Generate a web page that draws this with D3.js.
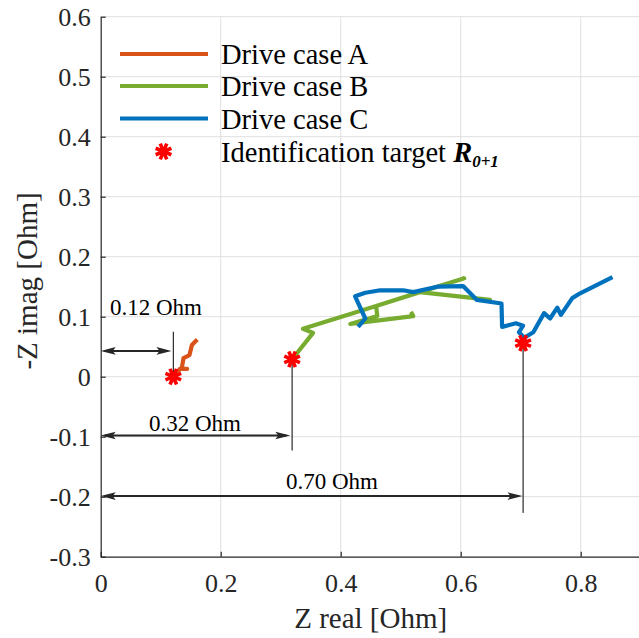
<!DOCTYPE html>
<html><head><meta charset="utf-8">
<script src="https://cdn.jsdelivr.net/npm/d3@7"></script>
<style>body{margin:0;background:#fff}svg{display:block}text{font-family:'Liberation Serif','Times New Roman',serif}</style>
</head><body><svg id="c" width="639" height="638"></svg>
<script>
// ---- data ----
const caseA_re = [0.122, 0.132, 0.144, 0.135, 0.138, 0.148, 0.152, 0.161];
const caseA_im = [0.000, 0.013, 0.013, 0.013, 0.031, 0.036, 0.053, 0.062];
const caseB_re = [0.319, 0.354, 0.337, 0.459, 0.606, 0.532, 0.649, 0.532, 0.459, 0.461, 0.416, 0.521, 0.517];
const caseB_im = [0.029, 0.073, 0.080, 0.118, 0.164, 0.141, 0.128, 0.141, 0.118, 0.101, 0.088, 0.101, 0.108];
const caseC_re = [0.429, 0.441, 0.424, 0.441, 0.466, 0.504, 0.521, 0.561, 0.604, 0.627, 0.668, 0.669, 0.692, 0.704, 0.697, 0.706, 0.721, 0.739, 0.749, 0.761, 0.767, 0.786, 0.799, 0.853];
const caseC_im = [0.083, 0.097, 0.134, 0.140, 0.144, 0.144, 0.141, 0.150, 0.151, 0.128, 0.122, 0.083, 0.089, 0.085, 0.074, 0.065, 0.074, 0.106, 0.097, 0.115, 0.103, 0.131, 0.139, 0.166];
const target_re = [0.121, 0.319, 0.704];
const target_im = [0.000, 0.029, 0.056];
const seriesNames = ["Drive case A", "Drive case B", "Drive case C"];
const targetName = "Identification target ";
const xTicks = [0, 0.2, 0.4, 0.6, 0.8];
const yTicks = [-0.3, -0.2, -0.1, 0, 0.1, 0.2, 0.3, 0.4, 0.5, 0.6];
const xLabel = "Z real [Ohm]";
const yLabel = "-Z imag [Ohm]";
// annotations: label, arrow tip (re), arrow level (im), vertical line top/bottom (im), text anchor point
const annotLabels = ["0.12 Ohm", "0.32 Ohm", "0.70 Ohm"];
const annotTip = [0.118, 0.316, 0.703];
const annotLevel = [0.043, -0.098, -0.199];
const annotLineTop = [0.075, 0.029, 0.056];
const annotLineBottom = [0.000, -0.123, -0.227];
const annotTextRe = [0.0155, 0.157, 0.3855];
const annotTextIm = [0.1028, -0.090, -0.1877];
const annotAnchor = ["start", "middle", "middle"];

// ---- layout ----
const svg = d3.select("#c");
const FONT = "'Liberation Serif','Times New Roman',serif";
const x = d3.scaleLinear().domain([0, 0.9]).range([100.7, 640.7]);
const y = d3.scaleLinear().domain([-0.3, 0.6]).range([556.7, 16.7]);
const colors = ["#D95319", "#77AC30", "#0072BD"];
const axisCol = "#262626";

// grid
const g = svg.append("g");
g.selectAll(".gx").data(xTicks.filter(d => d > 0)).enter().append("line")
  .attr("x1", d => x(d)).attr("x2", d => x(d)).attr("y1", y(-0.3)).attr("y2", y(0.6))
  .attr("stroke", "#dfdfdf").attr("stroke-width", 1);
g.selectAll(".gy").data(yTicks.filter(d => d > -0.3)).enter().append("line")
  .attr("y1", d => y(d)).attr("y2", d => y(d)).attr("x1", x(0)).attr("x2", x(0.9))
  .attr("stroke", "#dfdfdf").attr("stroke-width", 1);

const fmt = d => (Math.abs(d) < 1e-9 ? "0" : d3.format(".1f")(d).replace("−", "-"));

const ax = svg.append("g").attr("transform", `translate(0,${y(-0.3)})`)
  .call(d3.axisBottom(x).tickValues(xTicks).tickFormat(fmt).tickSizeInner(-5).tickSizeOuter(0).tickPadding(17));
const ay = svg.append("g").attr("transform", `translate(${x(0)},0)`)
  .call(d3.axisLeft(y).tickValues(yTicks).tickFormat(fmt).tickSizeInner(-5).tickSizeOuter(0).tickPadding(10));
[ax, ay].forEach(a => {
  a.attr("font-family", FONT).attr("font-size", 26);
  a.select(".domain").attr("stroke", axisCol).attr("stroke-width", 1.2);
  a.selectAll(".tick line").attr("stroke", axisCol).attr("stroke-width", 1.2);
  a.selectAll(".tick text").attr("fill", axisCol).attr("font-family", FONT).style("font-family", FONT).style("font-size", "26px");
});

svg.append("text").attr("x", x(0.45)).attr("y", 628).attr("text-anchor", "middle")
  .attr("font-family", FONT).style("font-family", FONT).style("font-size", "29px").attr("fill", axisCol).text(xLabel);
svg.append("text").attr("transform", `translate(37,281) rotate(-90)`).attr("text-anchor", "middle")
  .attr("font-family", FONT).style("font-family", FONT).style("font-size", "29px").attr("fill", axisCol).text(yLabel);

// data lines
const line = d3.line().x(d => x(d[0])).y(d => y(d[1]));
const series = [
  d3.zip(caseA_re, caseA_im),
  d3.zip(caseB_re, caseB_im),
  d3.zip(caseC_re, caseC_im)
];
series.forEach((s, i) => {
  svg.append("path").datum(s).attr("d", line).attr("fill", "none")
    .attr("stroke", colors[i]).attr("stroke-width", 4.2)
    .attr("stroke-linejoin", "round").attr("stroke-linecap", "butt");
});

// asterisk marker
function star(sel, cx, cy, r) {
  const gg = sel.append("g").attr("transform", `translate(${cx},${cy})`);
  for (let k = 0; k < 4; k++) {
    const a = k * Math.PI / 4 + Math.PI / 8;
    gg.append("line").attr("x1", -r * Math.cos(a)).attr("y1", -r * Math.sin(a))
      .attr("x2", r * Math.cos(a)).attr("y2", r * Math.sin(a))
      .attr("stroke", "#FF0000").attr("stroke-width", 3.6);
  }
  gg.append("circle").attr("r", r * 0.55).attr("fill", "#FF0000");
}

// annotations (behind stars)
const ann = svg.append("g");
const arrowHead = (tipX, tipY, dir) => {
  const L = 15, W = 3.8;
  return `M${tipX},${tipY} L${tipX - dir * L},${tipY - W} L${tipX - dir * L * 0.8},${tipY} L${tipX - dir * L},${tipY + W} Z`;
};
annotLabels.forEach((lab, i) => {
  const yl = y(annotLevel[i]);
  const x0 = x(0), x1 = x(annotTip[i]);
  ann.append("line").attr("x1", x0 + 4).attr("x2", x1 - 4).attr("y1", yl).attr("y2", yl)
    .attr("stroke", axisCol).attr("stroke-width", 2);
  ann.append("path").attr("d", arrowHead(x1, yl, 1)).attr("fill", axisCol);
  ann.append("path").attr("d", arrowHead(x0, yl, -1)).attr("fill", axisCol);
  ann.append("line").attr("x1", x(target_re[i])).attr("x2", x(target_re[i]))
    .attr("y1", y(annotLineTop[i])).attr("y2", y(annotLineBottom[i]))
    .attr("stroke", "#000").attr("stroke-width", 1);
  ann.append("text").attr("x", x(annotTextRe[i])).attr("y", y(annotTextIm[i]))
    .attr("text-anchor", annotAnchor[i]).style("font-family", FONT).style("font-size", "23px")
    .attr("fill", "#000").text(lab);
});

target_re.forEach((re, i) => star(svg, x(re), y(target_im[i]), 8.5));

// legend
const leg = svg.append("g");
const rowY = [54, 86, 118.5];
seriesNames.forEach((n, i) => {
  leg.append("line").attr("x1", 120).attr("x2", 208).attr("y1", rowY[i]).attr("y2", rowY[i])
    .attr("stroke", colors[i]).attr("stroke-width", 4);
  leg.append("text").attr("x", 221).attr("y", rowY[i] + 10).style("font-family", FONT)
    .style("font-size", "28.5px").attr("fill", "#000").text(n);
});
star(leg, 163.5, 151.5, 8.5);
const t = leg.append("text").attr("x", 221).attr("y", 161.5).style("font-family", FONT)
  .style("font-size", "28.5px").attr("fill", "#000");
t.append("tspan").text(targetName);
t.append("tspan").style("font-weight", "bold").style("font-style", "italic").text("R");
t.append("tspan").style("font-weight", "bold").style("font-style", "italic").style("font-size", "17px")
  .attr("dy", 5).text("0+1");
</script></body></html>
